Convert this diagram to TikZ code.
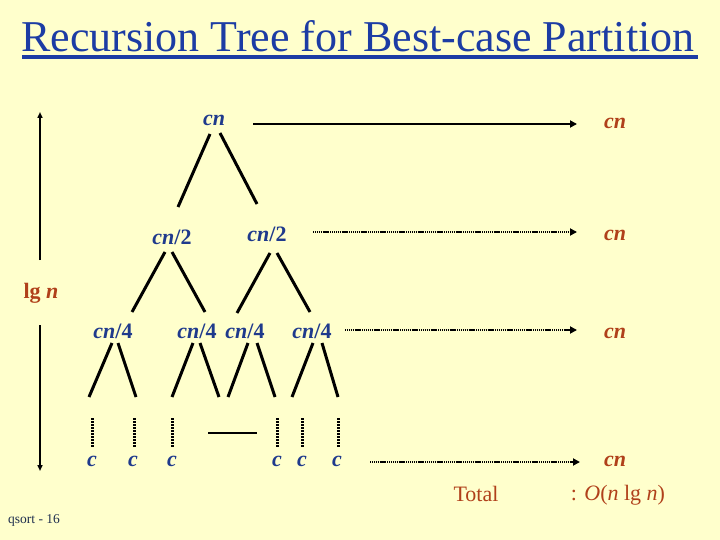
\documentclass[tikz,border=0pt]{standalone}
\usepackage{fontspec}
\setmainfont{Liberation Serif}
\usetikzlibrary{arrows.meta}
\definecolor{bgc}{HTML}{FFFFCC}
\definecolor{titleblue}{HTML}{1C3CA4}
\definecolor{treeblue}{HTML}{1F3A8C}
\definecolor{brownc}{HTML}{B0401A}
\definecolor{navy}{HTML}{1E2E4E}
\tikzset{
  lbl/.style={inner sep=0pt, font=\fontsize{22}{24}\selectfont\bfseries, text=treeblue},
  rlbl/.style={inner sep=0pt, font=\fontsize{22}{24}\selectfont\bfseries, text=brownc},
  branch/.style={line width=3pt, black},
  vdots/.style={line width=3pt, dash pattern=on 2pt off 1pt},
  hdots/.style={line width=2pt, dash pattern=on 1.2pt off 0.7pt, -{Triangle[length=7pt,width=7pt]}},
  harrow/.style={line width=2pt, -{Triangle[length=7pt,width=7pt]}},
  varrow/.style={line width=1.8pt, -{Triangle[length=6pt,width=5pt]}},
}
\begin{document}
\begin{tikzpicture}[x=1pt,y=-1pt]
\fill[bgc] (0,0) rectangle (720,540);
\useasboundingbox (0,0) rectangle (720,540);
% title
\node[inner sep=0pt, anchor=base, text=titleblue, font=\fontsize{44}{48}\selectfont] (title) at (358,52) {Recursion Tree for Best-case Partition};
\coordinate (ulA) at (22,57.5);
\coordinate (ulB) at (698,57.5);
\draw[line width=4pt, titleblue] (ulA) -- (ulB);
% tree labels
\node[lbl] (root) at (214,120) {\itshape cn};
\node[lbl] (l2a) at (172,237) {\textit{cn}/2};
\node[lbl] (l2b) at (267,234) {\textit{cn}/2};
\node[lbl] (l3a) at (113,331) {\textit{cn}/4};
\node[lbl] (l3b) at (197,331) {\textit{cn}/4};
\node[lbl] (l3c) at (245,331) {\textit{cn}/4};
\node[lbl] (l3d) at (312,331) {\textit{cn}/4};
\foreach \n/\x in {c1/92,c2/133,c3/172,c4/277,c5/302,c6/337}{
  \node[lbl] (\n) at (\x,461) {\itshape c};
}
% branches root
\coordinate (r1s) at (210,134); \coordinate (r1e) at (178,207);
\coordinate (r2s) at (220,133); \coordinate (r2e) at (257,204);
\draw[branch] (r1s) -- (r1e);
\draw[branch] (r2s) -- (r2e);
% level 2 branches
\coordinate (a1s) at (165,252); \coordinate (a1e) at (132,312);
\coordinate (a2s) at (172,252); \coordinate (a2e) at (205,312);
\coordinate (b1s) at (270,253); \coordinate (b1e) at (237,313);
\coordinate (b2s) at (277,253); \coordinate (b2e) at (310,312);
\draw[branch] (a1s) -- (a1e);
\draw[branch] (a2s) -- (a2e);
\draw[branch] (b1s) -- (b1e);
\draw[branch] (b2s) -- (b2e);
% level 3 branches
\foreach \i/\xs/\xe in {1/112/89, 2/118/136, 3/193/172, 4/200/219, 5/248/228, 6/257/275, 7/313/292, 8/322/338}{
  \coordinate (t\i s) at (\xs,343);
  \coordinate (t\i e) at (\xe,397);
  \draw[branch] (t\i s) -- (t\i e);
}
% vertical dotted
\foreach \i/\x in {1/92,2/134,3/172,4/277,5/302,6/338}{
  \coordinate (v\i s) at (\x,418);
  \coordinate (v\i e) at (\x,447);
  \draw[vdots] (v\i s) -- (v\i e);
}
\coordinate (hs) at (208,433); \coordinate (he) at (257,433);
\draw[line width=2pt] (hs) -- (he);
% right column
\node[rlbl] (rc1) at (615,123) {\itshape cn};
\node[rlbl] (rc2) at (615,235) {\itshape cn};
\node[rlbl] (rc3) at (615,333) {\itshape cn};
\node[rlbl] (rc4) at (615,461) {\itshape cn};
\coordinate (h1s) at (253,124); \coordinate (h1e) at (577,124);
\coordinate (h2s) at (313,232); \coordinate (h2e) at (577,232);
\coordinate (h3s) at (345,330); \coordinate (h3e) at (577,330);
\coordinate (h4s) at (370,462); \coordinate (h4e) at (580,462);
\draw[harrow] (h1s) -- (h1e);
\draw[hdots] (h2s) -- (h2e);
\draw[hdots] (h3s) -- (h3e);
\draw[hdots] (h4s) -- (h4e);
\node[inner sep=0pt, text=brownc, font=\fontsize{22}{24}\selectfont] (total) at (476,494) {Total};
\node[inner sep=0pt, text=brownc, font=\fontsize{22}{24}\selectfont] (onlg) at (618,495) {: \textit{O}(\textit{n} lg \textit{n})};
% left arrow
\node[rlbl] (lgn) at (41,293) {lg \textit{n}};
\coordinate (la) at (40,260); \coordinate (lat) at (40,112);
\coordinate (lb) at (40,325); \coordinate (lbt) at (40,471);
\draw[varrow] (la) -- (lat);
\draw[varrow] (lb) -- (lbt);
% footer
\node[inner sep=0pt, anchor=west, text=navy, font=\fontsize{13.5}{15}\selectfont] (foot) at (8,520) {qsort - 16};
\end{tikzpicture}
\end{document}
